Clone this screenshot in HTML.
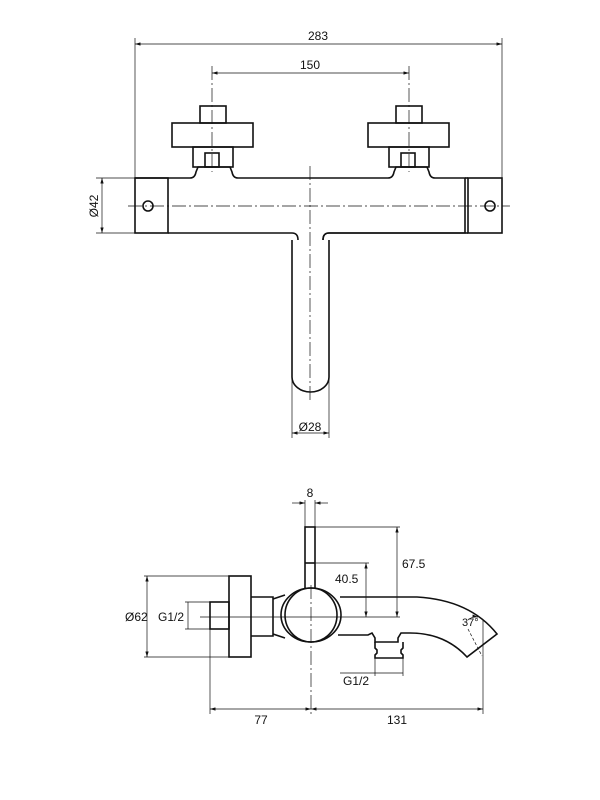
<!DOCTYPE html>
<html><head><meta charset="utf-8"><style>
html,body{margin:0;padding:0;background:#fff;}
svg{display:block;}
text{font-family:"Liberation Sans",sans-serif;font-size:12px;fill:#111;}
</style></head><body>
<svg width="600" height="800" viewBox="0 0 600 800" xmlns="http://www.w3.org/2000/svg">
<defs>
<marker id="a" viewBox="0 0 10 6" refX="10" refY="3" markerWidth="8" markerHeight="5" orient="auto-start-reverse"><path d="M0,0L10,3L0,6z" fill="#111"/></marker>
</defs>
<g fill="none" stroke="#111" stroke-width="1.6">
<!-- TOP VIEW body -->
<path d="M135,178 H190 Q195,178 196,172 L198,167 H230 L232,172 Q233,178 238,178 H388 Q393,178 394,172 L396,167 H427 L429,172 Q430,178 435,178 H465 V233 H329 Q323,233 323,240"/>
<path d="M465,233 H329 Q323,233 323,240"/>
<rect x="135" y="178" width="33" height="55"/>
<path d="M168,233 H292 Q298,233 298,240"/>
<rect x="468" y="178" width="34" height="55"/>
<line x1="465" y1="178" x2="468" y2="178"/><line x1="465" y1="233" x2="468" y2="233"/>
<path d="M292,240 V377 A18.5,15 0 0 0 329,377 V240" transform="translate(0,0)"/>
<circle cx="148" cy="206" r="5"/><circle cx="490" cy="206" r="5"/>
<!-- left knob -->
<rect x="200" y="106" width="26" height="17"/><rect x="172" y="123" width="81" height="24"/>
<rect x="193" y="147" width="40" height="20"/><rect x="205" y="153" width="14" height="14"/>
<!-- right knob -->
<rect x="396" y="106" width="26" height="17"/><rect x="368" y="123" width="81" height="24"/>
<rect x="389" y="147" width="40" height="20"/><rect x="401" y="153" width="14" height="14"/>
</g>
<g stroke="#111" stroke-width="0.7" fill="none">
<line x1="128" y1="206" x2="510" y2="206" stroke-dasharray="14,3,2,3"/>
<line x1="310" y1="166" x2="310" y2="402" stroke-dasharray="14,3,2,3"/>
<line x1="212" y1="66" x2="212" y2="172" stroke-dasharray="14,3,2,3"/>
<line x1="409" y1="66" x2="409" y2="172" stroke-dasharray="14,3,2,3"/>
<line x1="135" y1="38" x2="135" y2="178"/><line x1="502" y1="38" x2="502" y2="178"/>
<line x1="135" y1="44" x2="502" y2="44" marker-start="url(#a)" marker-end="url(#a)"/>
<line x1="212" y1="73" x2="409" y2="73" marker-start="url(#a)" marker-end="url(#a)"/>
<line x1="96" y1="178" x2="135" y2="178"/><line x1="96" y1="233" x2="135" y2="233"/>
<line x1="102" y1="178" x2="102" y2="233" marker-start="url(#a)" marker-end="url(#a)"/>
<line x1="292" y1="380" x2="292" y2="438"/><line x1="329" y1="380" x2="329" y2="438"/>
<line x1="292" y1="433" x2="329" y2="433" marker-start="url(#a)" marker-end="url(#a)"/>
</g>
<text x="318" y="40" text-anchor="middle">283</text>
<text x="310" y="69" text-anchor="middle">150</text>
<text x="98" y="206" text-anchor="middle" transform="rotate(-90 98 206)">Ø42</text>
<text x="310" y="431" text-anchor="middle">Ø28</text>

<!-- SIDE VIEW -->
<g fill="none" stroke="#111" stroke-width="1.6">
<rect x="229" y="576" width="22" height="81"/>
<rect x="210" y="602" width="19" height="27"/>
<path d="M251,597 H273 V636 H251"/>
<path d="M273,599 L285,595 M273,634 L285,638"/>
<rect x="305" y="527" width="10" height="63"/>
<line x1="305" y1="563" x2="315" y2="563"/>
<ellipse cx="311" cy="615" rx="30" ry="27" fill="#fff"/>
<ellipse cx="311" cy="615" rx="26" ry="27"/>
<path d="M340,597 H417 Q470,600 497,634 L467,657 Q445,633 410,633 H401 L398,638 V642 H375 V638 L372,633 L368,635 H338"/>
<path d="M375,642 V648 L377,650 V653 L375,655 V658 H403 V655 L401,653 V650 L403,648 V642"/>
</g>
<g stroke="#111" stroke-width="0.7" fill="none">
<line x1="200" y1="617" x2="400" y2="617"/>
<line x1="311" y1="585" x2="311" y2="714" stroke-dasharray="14,3,2,3"/>
<line x1="305" y1="500" x2="305" y2="527"/><line x1="315" y1="500" x2="315" y2="527"/>
<line x1="292" y1="503" x2="305" y2="503" marker-end="url(#a)"/><line x1="328" y1="503" x2="315" y2="503" marker-end="url(#a)"/>
<line x1="315" y1="527" x2="400" y2="527"/><line x1="397" y1="527" x2="397" y2="617" marker-start="url(#a)" marker-end="url(#a)"/>
<line x1="315" y1="563" x2="369" y2="563"/><line x1="366" y1="563" x2="366" y2="617" marker-start="url(#a)" marker-end="url(#a)"/>
<line x1="144" y1="576" x2="229" y2="576"/><line x1="144" y1="657" x2="229" y2="657"/>
<line x1="147" y1="576" x2="147" y2="657" marker-start="url(#a)" marker-end="url(#a)"/>
<line x1="185" y1="602" x2="210" y2="602"/><line x1="185" y1="629" x2="210" y2="629"/>
<line x1="188" y1="602" x2="188" y2="629"/>
<line x1="210" y1="629" x2="210" y2="714"/><line x1="483" y1="620" x2="483" y2="714"/>
<line x1="375" y1="658" x2="375" y2="676"/><line x1="403" y1="658" x2="403" y2="676"/>
<line x1="340" y1="673" x2="403" y2="673"/>
<line x1="210" y1="709" x2="311" y2="709" marker-start="url(#a)" marker-end="url(#a)"/>
<line x1="311" y1="709" x2="483" y2="709" marker-start="url(#a)" marker-end="url(#a)"/>
<line x1="468" y1="629" x2="482" y2="656" stroke-dasharray="3,2"/>
<path d="M468,620 A12,12 0 0 1 478,617" marker-end="url(#a)"/>
</g>
<text x="310" y="497" text-anchor="middle">8</text>
<text x="402" y="568">67.5</text>
<text x="335" y="583">40.5</text>
<text x="125" y="621">Ø62</text>
<text x="158" y="621">G1/2</text>
<text x="343" y="685">G1/2</text>
<text x="261" y="724" text-anchor="middle">77</text>
<text x="397" y="724" text-anchor="middle">131</text>
<text x="462" y="626" style="font-size:11px">37°</text>
</svg>
</body></html>
